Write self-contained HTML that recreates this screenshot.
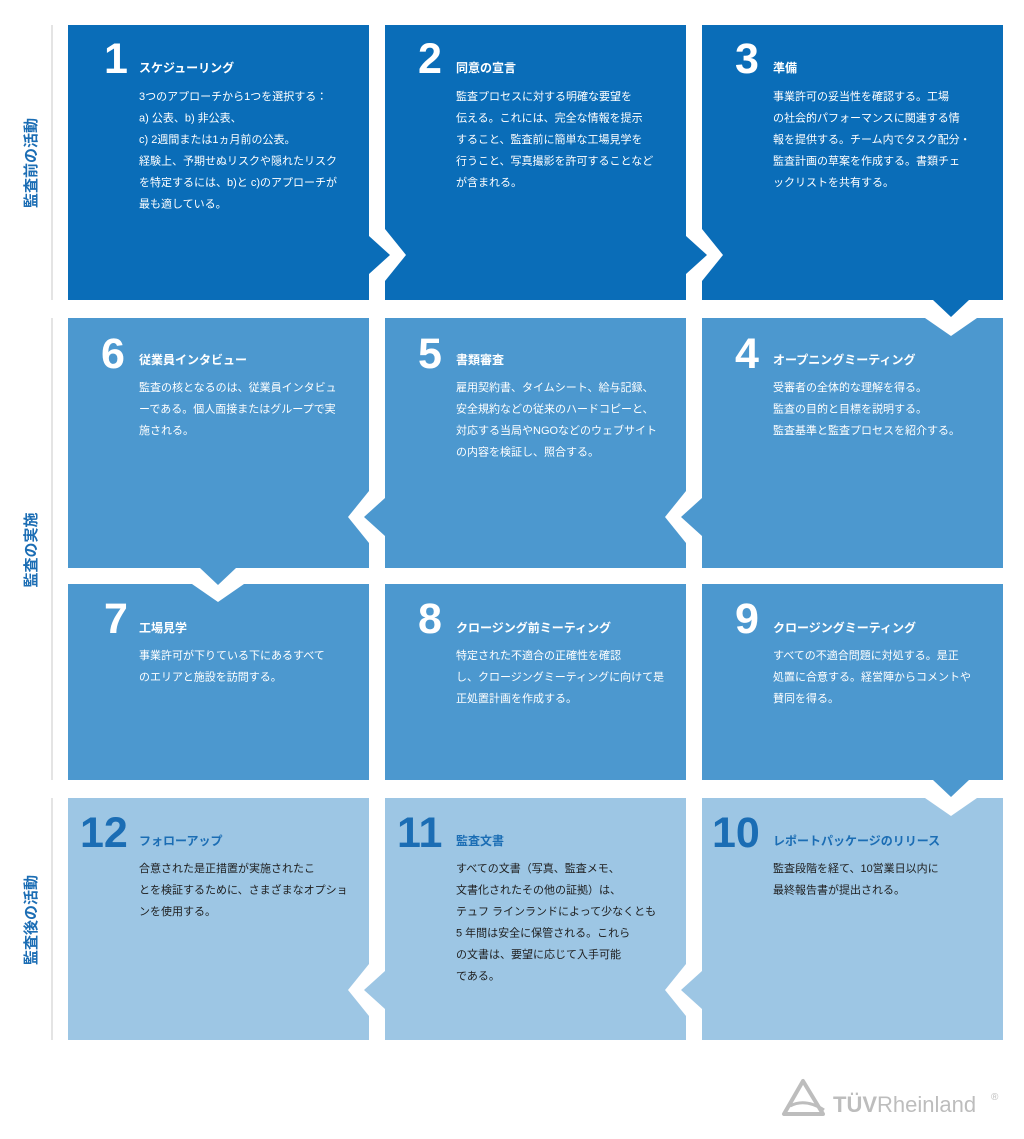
<!DOCTYPE html>
<html><head><meta charset="utf-8"><style>
html,body{margin:0;padding:0;background:#fff;}
svg{display:block}
text{font-family:"Liberation Sans","Noto Sans CJK JP",sans-serif;}
.n{font-size:43px;font-weight:bold;fill:#fff}
.t{font-size:12px;font-weight:bold;fill:#fff}
.b{font-size:11px;fill:#fff}
.n4{font-size:43px;font-weight:bold;fill:#1b6db4}
.t4{font-size:12px;font-weight:bold;fill:#1b6db4}
.b4{font-size:11px;fill:#1e1e1e}
.s{font-size:15px;font-weight:bold;fill:#1b6db4}
</style></head><body>
<svg width="1024" height="1139" viewBox="0 0 1024 1139" xmlns="http://www.w3.org/2000/svg">
<g stroke="#c8c8c8" stroke-width="1">
<line x1="52" y1="25" x2="52" y2="300"/>
<line x1="52" y1="318" x2="52" y2="780"/>
<line x1="52" y1="798" x2="52" y2="1040"/>
</g>
<text class="s" transform="translate(36,163) rotate(-90)" text-anchor="middle">監査前の活動</text>
<text class="s" transform="translate(36,550) rotate(-90)" text-anchor="middle">監査の実施</text>
<text class="s" transform="translate(36,920) rotate(-90)" text-anchor="middle">監査後の活動</text>

<g fill="#0a6db8">
<rect x="68" y="25" width="301" height="275"/>
<rect x="385" y="25" width="301" height="275"/>
<rect x="702" y="25" width="301" height="275"/>
</g>
<g fill="#4c98cf">
<rect x="68" y="318" width="301" height="250"/>
<rect x="385" y="318" width="301" height="250"/>
<rect x="702" y="318" width="301" height="250"/>
<rect x="68" y="584" width="301" height="196"/>
<rect x="385" y="584" width="301" height="196"/>
<rect x="702" y="584" width="301" height="196"/>
</g>
<g fill="#9dc6e4">
<rect x="68" y="798" width="301" height="242"/>
<rect x="385" y="798" width="301" height="242"/>
<rect x="702" y="798" width="301" height="242"/>
</g>
<g fill="#fff">
<polygon points="385,229 406,255 385,281"/>
<polygon points="702,229 723,255 702,281"/>
<polygon points="925,318 977,318 951,336"/>
<polygon points="686,491 665,517 686,543"/>
<polygon points="369,491 348,517 369,543"/>
<polygon points="192,584 244,584 218,602"/>
<polygon points="925,798 977,798 951,816"/>
<polygon points="686,964 665,990 686,1016"/>
<polygon points="369,964 348,990 369,1016"/>
</g>
<polygon fill="#0a6db8" points="369,236 390,255 369,274"/>
<polygon fill="#0a6db8" points="686,236 707,255 686,274"/>
<polygon fill="#0a6db8" points="933,300 969,300 951,317"/>
<polygon fill="#4c98cf" points="702,498 681,517 702,536"/>
<polygon fill="#4c98cf" points="385,498 364,517 385,536"/>
<polygon fill="#4c98cf" points="200,568 236,568 218,585"/>
<polygon fill="#4c98cf" points="933,780 969,780 951,797"/>
<polygon fill="#9dc6e4" points="702,971 681,990 702,1009"/>
<polygon fill="#9dc6e4" points="385,971 364,990 385,1009"/>

<text class="n" x="104" y="73">1</text>
<text class="t" x="139" y="72">スケジューリング</text>
<text class="b" x="139" y="100">3つのアプローチから1つを選択する：</text>
<text class="b" x="139" y="121.5">a) 公表、b) 非公表、</text>
<text class="b" x="139" y="143">c) 2週間または1ヵ月前の公表。</text>
<text class="b" x="139" y="164.5">経験上、予期せぬリスクや隠れたリスク</text>
<text class="b" x="139" y="186">を特定するには、b)と c)のアプローチが</text>
<text class="b" x="139" y="207.5">最も適している。</text>

<text class="n" x="418" y="73">2</text>
<text class="t" x="456" y="72">同意の宣言</text>
<text class="b" x="456" y="100">監査プロセスに対する明確な要望を</text>
<text class="b" x="456" y="121.5">伝える。これには、完全な情報を提示</text>
<text class="b" x="456" y="143">すること、監査前に簡単な工場見学を</text>
<text class="b" x="456" y="164.5">行うこと、写真撮影を許可することなど</text>
<text class="b" x="456" y="186">が含まれる。</text>

<text class="n" x="735" y="73">3</text>
<text class="t" x="773" y="72">準備</text>
<text class="b" x="773" y="100">事業許可の妥当性を確認する。工場</text>
<text class="b" x="773" y="121.5">の社会的パフォーマンスに関連する情</text>
<text class="b" x="773" y="143">報を提供する。チーム内でタスク配分・</text>
<text class="b" x="773" y="164.5">監査計画の草案を作成する。書類チェ</text>
<text class="b" x="773" y="186">ックリストを共有する。</text>

<text class="n" x="101" y="368">6</text>
<text class="t" x="139" y="364">従業員インタビュー</text>
<text class="b" x="139" y="391">監査の核となるのは、従業員インタビュ</text>
<text class="b" x="139" y="412.5">ーである。個人面接またはグループで実</text>
<text class="b" x="139" y="434">施される。</text>

<text class="n" x="418" y="368">5</text>
<text class="t" x="456" y="364">書類審査</text>
<text class="b" x="456" y="391">雇用契約書、タイムシート、給与記録、</text>
<text class="b" x="456" y="412.5">安全規約などの従来のハードコピーと、</text>
<text class="b" x="456" y="434">対応する当局やNGOなどのウェブサイト</text>
<text class="b" x="456" y="455.5">の内容を検証し、照合する。</text>

<text class="n" x="735" y="368">4</text>
<text class="t" x="773" y="364">オープニングミーティング</text>
<text class="b" x="773" y="391">受審者の全体的な理解を得る。</text>
<text class="b" x="773" y="412.5">監査の目的と目標を説明する。</text>
<text class="b" x="773" y="434">監査基準と監査プロセスを紹介する。</text>

<text class="n" x="104" y="633">7</text>
<text class="t" x="139" y="632">工場見学</text>
<text class="b" x="139" y="659">事業許可が下りている下にあるすべて</text>
<text class="b" x="139" y="680.5">のエリアと施設を訪問する。</text>

<text class="n" x="418" y="633">8</text>
<text class="t" x="456" y="632">クロージング前ミーティング</text>
<text class="b" x="456" y="659">特定された不適合の正確性を確認</text>
<text class="b" x="456" y="680.5">し、クロージングミーティングに向けて是</text>
<text class="b" x="456" y="702">正処置計画を作成する。</text>

<text class="n" x="735" y="633">9</text>
<text class="t" x="773" y="632">クロージングミーティング</text>
<text class="b" x="773" y="659">すべての不適合問題に対処する。是正</text>
<text class="b" x="773" y="680.5">処置に合意する。経営陣からコメントや</text>
<text class="b" x="773" y="702">賛同を得る。</text>

<text class="n4" x="80" y="847">12</text>
<text class="t4" x="139" y="845">フォローアップ</text>
<text class="b4" x="139" y="872">合意された是正措置が実施されたこ</text>
<text class="b4" x="139" y="893.5">とを検証するために、さまざまなオプショ</text>
<text class="b4" x="139" y="915">ンを使用する。</text>

<text class="n4" x="397" y="847">11</text>
<text class="t4" x="456" y="845">監査文書</text>
<text class="b4" x="456" y="872">すべての文書（写真、監査メモ、</text>
<text class="b4" x="456" y="893.5">文書化されたその他の証拠）は、</text>
<text class="b4" x="456" y="915">テュフ ラインランドによって少なくとも</text>
<text class="b4" x="456" y="936.5">5 年間は安全に保管される。これら</text>
<text class="b4" x="456" y="958">の文書は、要望に応じて入手可能</text>
<text class="b4" x="456" y="979.5">である。</text>

<text class="n4" x="712" y="847">10</text>
<text class="t4" x="773" y="845">レポートパッケージのリリース</text>
<text class="b4" x="773" y="872">監査段階を経て、10営業日以内に</text>
<text class="b4" x="773" y="893.5">最終報告書が提出される。</text>

<g fill="none" stroke="#bdbdbd" stroke-width="4" stroke-linejoin="round">
<polygon points="803,1081 784,1114 823,1114"/>
</g>
<path d="M790,1106 Q805,1098 824,1110" stroke="#bdbdbd" stroke-width="3" fill="none"/>
<text x="833" y="1112" font-size="22" fill="#bdbdbd" font-weight="bold" style="font-family:'Liberation Sans',sans-serif">TÜV<tspan font-weight="normal">Rheinland</tspan></text>
<text x="991" y="1100" font-size="10" fill="#bdbdbd">®</text>
</svg>
</body></html>
